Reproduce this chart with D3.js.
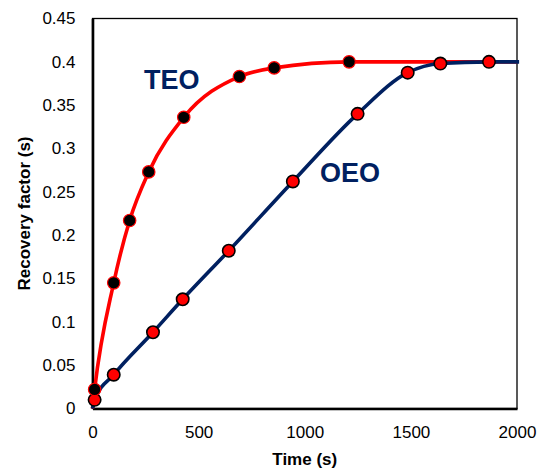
<!DOCTYPE html>
<html>
<head>
<meta charset="utf-8">
<script src="https://cdn.jsdelivr.net/npm/d3@7"></script>
<style>
  html, body { margin: 0; padding: 0; background: #fff; }
  svg { display: block; font-family: "Liberation Sans", Arial, sans-serif; }
</style>
</head>
<body>
<svg id="chart" width="545" height="473"></svg>
<script>
// Recovery factor vs time for the two extraction runs
const teoTime = [10, 100, 175, 265, 430, 692, 856, 1209];
const teoRF   = [0.022, 0.145, 0.217, 0.273, 0.336, 0.383, 0.393, 0.400];

const oeoTime = [10, 100, 285, 425, 642, 944, 1249, 1485, 1639, 1868];
const oeoRF   = [0.010, 0.039, 0.088, 0.126, 0.182, 0.262, 0.340, 0.3875, 0.398, 0.400];

// smoothed curves start at the origin and level off at the plateau
const curveStartTime = 0, curveStartRF = 0;
const teoTailTime = 2000, teoTailRF = 0.400;
const oeoTailTime = 2010, oeoTailRF = 0.400;

const xTicks = [0, 500, 1000, 1500, 2000];
const yTicks = [0, 0.05, 0.1, 0.15, 0.2, 0.25, 0.3, 0.35, 0.4, 0.45];

const seriesLabels = ["TEO", "OEO"];
const xTitle = "Time (s)";
const yTitle = "Recovery factor (s)";

const RED = "#ff0000", NAVY = "#002060";

const svg = d3.select("#chart");
const plotLeft = 92.5, plotRight = 517, plotTop = 18.5, plotBottom = 408.5;

const x = d3.scaleLinear().domain([0, 2000]).range([plotLeft, plotRight]);
const y = d3.scaleLinear().domain([0, 0.45]).range([plotBottom, plotTop]);

// plot frame
svg.append("rect")
  .attr("x", plotLeft).attr("y", plotTop)
  .attr("width", plotRight - plotLeft).attr("height", plotBottom - plotTop)
  .attr("fill", "none").attr("stroke", "#000").attr("stroke-width", 1.3);

// axes (labels only, no tick marks)
const yAxis = svg.append("g").attr("transform", `translate(${plotLeft},0)`)
  .call(d3.axisLeft(y).tickValues(yTicks).tickSize(0).tickPadding(17)
    .tickFormat(d => String(+d.toFixed(2))));
const xAxis = svg.append("g").attr("transform", `translate(0,${plotBottom})`)
  .call(d3.axisBottom(x).tickValues(xTicks).tickSize(0).tickPadding(17)
    .tickFormat(d3.format("d")));
[yAxis, xAxis].forEach(g => {
  g.select(".domain").attr("stroke", "#000").attr("stroke-width", 2.6);
  g.selectAll("text").attr("font-size", 17).attr("fill", "#000")
    .attr("font-family", '"Liberation Sans", Arial, sans-serif');
});

// axis titles
svg.append("text")
  .attr("x", (plotLeft + plotRight) / 2).attr("y", 465)
  .attr("text-anchor", "middle").attr("font-size", 17).attr("font-weight", "bold")
  .text(xTitle);
svg.append("text")
  .attr("transform", `translate(30,${(plotTop + plotBottom) / 2}) rotate(-90)`)
  .attr("text-anchor", "middle").attr("font-size", 17).attr("font-weight", "bold")
  .text(yTitle);

// series
const teo = teoTime.map((t, i) => ({ t, v: teoRF[i] }));
const oeo = oeoTime.map((t, i) => ({ t, v: oeoRF[i] }));
const teoCurve = [{ t: curveStartTime, v: curveStartRF }, ...teo, { t: teoTailTime, v: teoTailRF }];
const oeoCurve = [{ t: curveStartTime, v: curveStartRF }, ...oeo, { t: oeoTailTime, v: oeoTailRF }];

const line = d3.line().x(d => x(d.t)).y(d => y(d.v)).curve(d3.curveMonotoneX);

svg.append("path").datum(teoCurve).attr("d", line)
  .attr("fill", "none").attr("stroke", RED).attr("stroke-width", 3.6);
svg.append("path").datum(oeoCurve).attr("d", line)
  .attr("fill", "none").attr("stroke", NAVY).attr("stroke-width", 3.6);

svg.append("g").selectAll("circle").data(oeo).join("circle")
  .attr("cx", d => x(d.t)).attr("cy", d => y(d.v)).attr("r", 6.2)
  .attr("fill", RED).attr("stroke", "#000").attr("stroke-width", 1.6);
svg.append("g").selectAll("circle").data(teo).join("circle")
  .attr("cx", d => x(d.t)).attr("cy", d => y(d.v)).attr("r", 6.2)
  .attr("fill", "#000").attr("stroke", RED).attr("stroke-width", 1.2);

// series labels
svg.append("text").attr("x", 144).attr("y", 89)
  .attr("font-size", 27).attr("font-weight", "bold").attr("fill", NAVY)
  .text(seriesLabels[0]);
svg.append("text").attr("x", 320).attr("y", 182)
  .attr("font-size", 27).attr("font-weight", "bold").attr("fill", NAVY)
  .text(seriesLabels[1]);
</script>
</body>
</html>
